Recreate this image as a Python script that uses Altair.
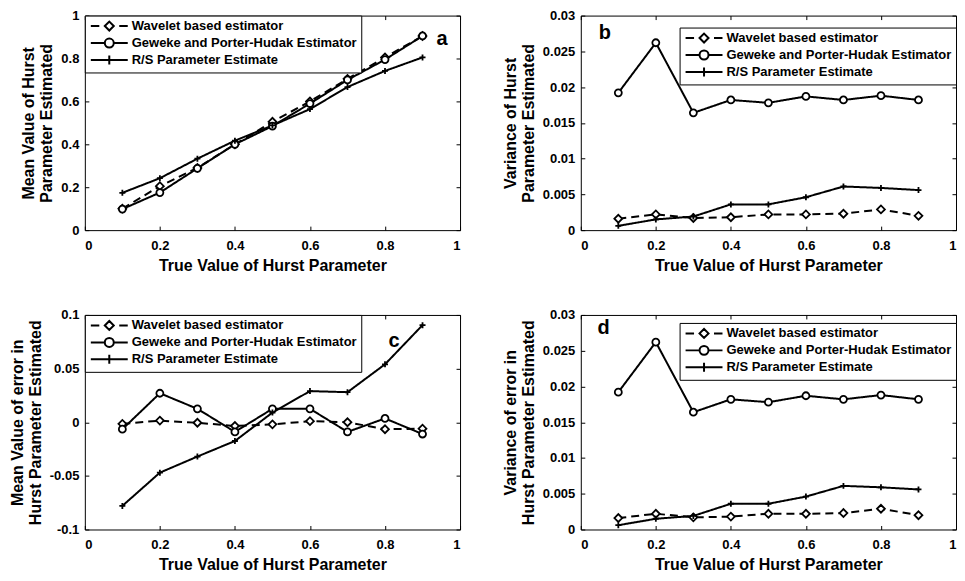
import altair as alt
import pandas as pd

FONT = "Liberation Sans"

x_true = [0.1, 0.2, 0.3, 0.4, 0.5, 0.6, 0.7, 0.8, 0.9]
series_names = [
    "Wavelet based estimator",
    "Geweke and Porter-Hudak Estimator",
    "R/S Parameter Estimate",
]

# panel a: mean value of Hurst parameter estimated
mean_wavelet = [0.10, 0.205, 0.29, 0.40, 0.505, 0.60, 0.705, 0.805, 0.905]
mean_gph = [0.098, 0.175, 0.288, 0.40, 0.485, 0.59, 0.70, 0.795, 0.905]
mean_rs = [0.174, 0.242, 0.333, 0.417, 0.488, 0.564, 0.667, 0.742, 0.805]

# panels b and d: variance of estimate / variance of error
var_wavelet = [0.0016, 0.0022, 0.0017, 0.0018, 0.0022, 0.0022, 0.0023, 0.0029, 0.0020]
var_gph = [0.0192, 0.0262, 0.0164, 0.0182, 0.0178, 0.0187, 0.0182, 0.0188, 0.0182]
var_rs = [0.0006, 0.0015, 0.0019, 0.0036, 0.0036, 0.0046, 0.0061, 0.0059, 0.0056]

# panel c: mean value of error
err_wavelet = [-0.0015, 0.0015, -0.0005, -0.0035, -0.002, 0.001, 0.0, -0.0065, -0.006]
err_gph = [-0.0065, 0.027, 0.0125, -0.009, 0.0125, 0.0125, -0.009, 0.0035, -0.011]
err_rs = [-0.078, -0.047, -0.032, -0.0175, 0.009, 0.029, 0.028, 0.054, 0.0905]

x_ticks = [0, 0.2, 0.4, 0.6, 0.8, 1]
mean_ticks = [0, 0.2, 0.4, 0.6, 0.8, 1]
var_ticks = [0, 0.005, 0.01, 0.015, 0.02, 0.025, 0.03]
err_ticks = [-0.1, -0.05, 0, 0.05, 0.1]

x_title = "True Value of Hurst Parameter"

marker_paths = ["diamond", "circle", "M-1,0L1,0M0,-1L0,1"]
marker_sizes = [62, 36, 90]
legend_paths = [
    "M-3.7,0L-2.0,0M-0.9,0L0,-0.9L0.9,0L0,0.9ZM2.0,0L3.7,0",
    "M-3.7,0L-0.9,0M0.9,0L3.7,0M-0.9,0A0.9,0.9 0 1,1 0.9,0A0.9,0.9 0 1,1 -0.9,0",
    "M-3.7,0L3.7,0M0,-0.9L0,0.9",
]

LABEL_EXPR = "datum.value < 0 ? '-' + format(-datum.value, '') : format(datum.value, '')"

W = 376
H = 215


def panel(wav, gph, rs, ydom, yticks, ytitle, letter, lx, ly, legx, legy):
    rows = []
    for name, vals in zip(series_names, [wav, gph, rs]):
        for xv, yv in zip(x_true, vals):
            rows.append({"x": xv, "value": yv, "series": name})
    df = pd.DataFrame(rows)
    xs = alt.Scale(domain=[0, 1], nice=False, zero=False)
    ys = alt.Scale(domain=ydom, nice=False, zero=False)
    base = alt.Chart(df)

    lines = base.mark_line(color="black", strokeWidth=2).encode(
        x=alt.X("x:Q", scale=xs, axis=alt.Axis(
            orient="bottom", values=x_ticks, offset=-4, tickSize=4, domain=False,
            grid=False, labelPadding=9, title=x_title, titlePadding=5,
            labelExpr=LABEL_EXPR)),
        y=alt.Y("value:Q", scale=ys, axis=alt.Axis(
            orient="left", values=yticks, offset=-4, tickSize=4, domain=False,
            grid=False, labelPadding=6, title=ytitle, titlePadding=6,
            labelExpr=LABEL_EXPR)),
        strokeDash=alt.StrokeDash("series:N", scale=alt.Scale(
            domain=series_names, range=[[8, 5], [1, 0], [1, 0]]), legend=None),
    )

    points = base.mark_point(filled=True, fill="white", stroke="black",
                             strokeWidth=1.8, opacity=1).encode(
        x=alt.X("x:Q", scale=xs, axis=alt.Axis(
            orient="top", values=x_ticks, offset=-4, tickSize=4, domain=False,
            grid=False, labels=False, title=None)),
        y=alt.Y("value:Q", scale=ys, axis=alt.Axis(
            orient="right", values=yticks, offset=-4, tickSize=4, domain=False,
            grid=False, labels=False, title=None)),
        shape=alt.Shape("series:N", scale=alt.Scale(
            domain=series_names, range=marker_paths), legend=None),
        size=alt.Size("series:O", scale=alt.Scale(
            domain=series_names, range=marker_sizes), legend=None),
    )

    lab_df = pd.DataFrame({"x": [lx], "y": [ly], "t": [letter]})
    lab = alt.Chart(lab_df).mark_text(
        font=FONT, fontSize=20, fontWeight="bold", color="black").encode(
        x=alt.X("x:Q", scale=xs, axis=None),
        y=alt.Y("y:Q", scale=ys, axis=None),
        text="t:N",
    )

    leg = base.transform_filter("false").mark_point(
        filled=False, stroke="black", strokeWidth=2, opacity=1).encode(
        shape=alt.Shape("series:N", scale=alt.Scale(
            domain=series_names, range=legend_paths),
            legend=alt.Legend(
                orient="none", legendX=legx, legendY=legy, title=None,
                fillColor="white", strokeColor="black", padding=4,
                cornerRadius=0, symbolSize=100, symbolOffset=14,
                labelOffset=16, symbolStrokeWidth=2, symbolStrokeColor="black",
                labelFont=FONT, labelFontSize=13, labelFontWeight="bold",
                labelColor="black", labelLimit=400, rowPadding=0)),
    )

    return alt.layer(lines, points, lab, leg).resolve_scale(
        shape="independent").resolve_axis(
        x="independent", y="independent").properties(width=W, height=H)


pa = panel(mean_wavelet, mean_gph, mean_rs, [0, 1], mean_ticks,
           ["Mean Value of Hurst", "Parameter Estimated"],
           "a", 0.952, 0.89, 0, 0)
pb = panel(var_wavelet, var_gph, var_rs, [0, 0.03], var_ticks,
           ["Variance of Hurst", "Parameter Estimated"],
           "b", 0.064, 0.0275, 99, 12)
pc = panel(err_wavelet, err_gph, err_rs, [-0.1, 0.1], err_ticks,
           ["Mean Value of error in", "Hurst Parameter Estimated"],
           "c", 0.824, 0.076, 0, 0)
pd_ = panel(var_wavelet, var_gph, var_rs, [0, 0.03], var_ticks,
            ["Variance of error in", "Hurst Parameter Estimated"],
            "d", 0.061, 0.0282, 99, 8)

chart = alt.concat(pa, pb, pc, pd_, columns=2,
                   spacing={"row": 34, "column": 40}).resolve_scale(
    shape="independent", size="independent", strokeDash="independent"
).configure_view(stroke="black", strokeWidth=1).configure_axis(
    labelFont=FONT, labelFontSize=13, labelFontWeight="bold", labelColor="black",
    titleFont=FONT, titleFontSize=16, titleFontWeight="bold", titleColor="black",
    tickColor="black", tickWidth=1, titleLineHeight=18,
).properties(padding={"left": 0, "top": 0, "right": 0, "bottom": 0},
             background="white")

chart.save("out.html", embed_options={"renderer": "svg", "actions": False})
